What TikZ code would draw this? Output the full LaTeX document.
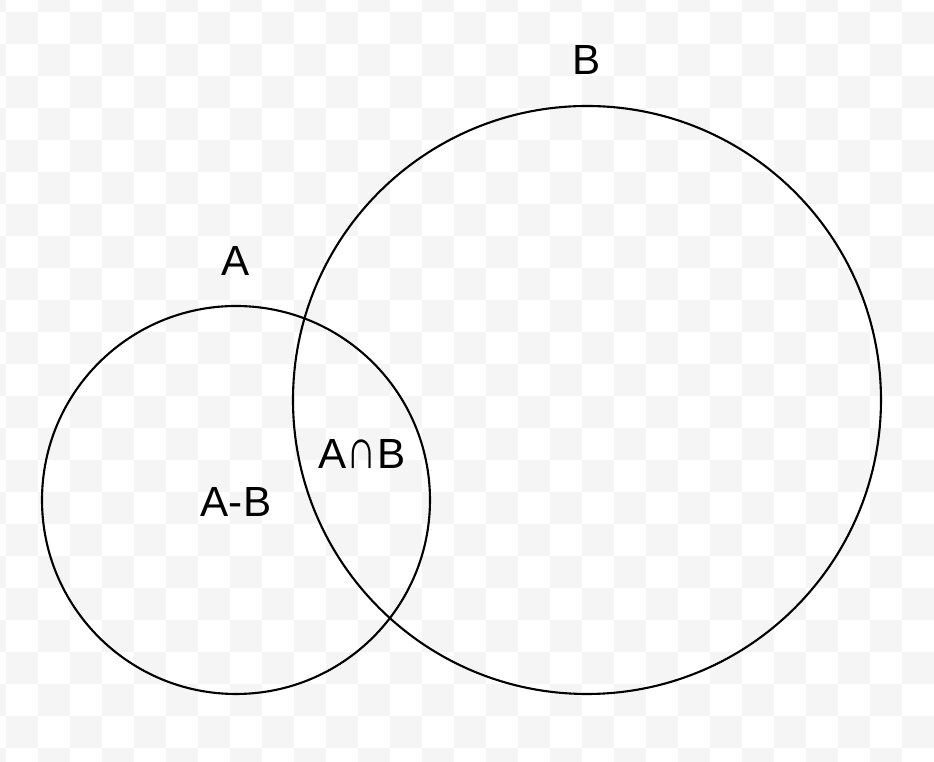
\documentclass[tikz,border=0pt]{standalone}
\usepackage{fontspec}
\usepackage{graphicx}
\setmainfont{Liberation Sans}
\usetikzlibrary{positioning}

\begin{document}
\begin{tikzpicture}[
    set/.style={draw, circle, line width=0.6pt, inner sep=0pt},
    lbl/.style={font=\fontsize{12}{14}\selectfont}
  ]
    \useasboundingbox (0,0) rectangle (9.34,7.62);

    % background squares
    \begin{scope}
      \clip (0,0) rectangle (9.34,7.62);
      \foreach \i in {-1,1,...,29} {
        \foreach \j in {-1,1,...,23} {
          \fill[black!4] ({0.06+0.32*\i},{7.50-0.32*\j}) rectangle ++(0.32,-0.32);
          \fill[black!4] ({0.38+0.32*\i},{7.18-0.32*\j}) rectangle ++(0.32,-0.32);
        }
      }
    \end{scope}

    \node[set, minimum size=3.88cm] (A) at (2.36,2.62) {};
    \node[set, minimum size=5.88cm] (B) at (5.87,3.62) {};

    \node[lbl] (labelA) at (2.36,5.01) {A};
    \node[lbl] (labelB) at (5.87,7.02) {B};
    \node[lbl] (AcapB) at (3.62,3.08) {A\scalebox{1}[1.35]{∩}B};
    \node[lbl] (AminusB) at (2.36,2.60) {A-B};

\end{tikzpicture}
\end{document}
